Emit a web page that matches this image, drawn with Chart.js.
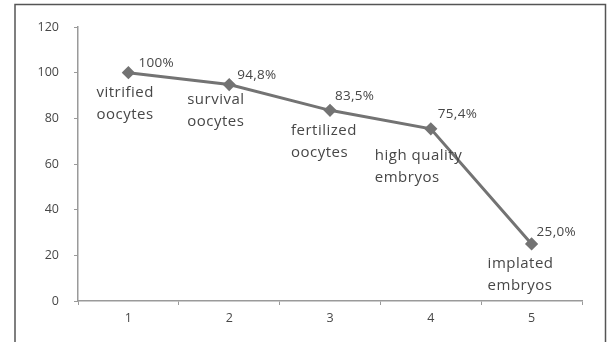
<!DOCTYPE html>
<html>
<head>
<meta charset="utf-8">
<script src="https://cdn.jsdelivr.net/npm/chart.js@4/dist/chart.umd.min.js"></script>
<style>
  html, body { margin: 0; padding: 0; background: #ffffff; }
  #wrap { position: relative; width: 612px; height: 342px; }
  canvas { display: block; }
</style>
</head>
<body>
<div id="wrap"><canvas id="c" width="612" height="342"></canvas></div>
<script>
// ---- data ----
const categories = ['1', '2', '3', '4', '5'];
const values = [100, 94.8, 83.5, 75.4, 25.0];
const valueLabels = ['100%', '94,8%', '83,5%', '75,4%', '25,0%'];
const stageNames = [
  ['vitrified', 'oocytes'],
  ['survival', 'oocytes'],
  ['fertilized', 'oocytes'],
  ['high quality', 'embryos'],
  ['implated', 'embryos']
];
const yTicks = [0, 20, 40, 60, 80, 100, 120];

// ---- label placement (style, not data) ----
const pctOffset = [[10, -10], [8, -9], [5, -14], [7, -15], [5, -12]];
const nameOffset = [[-32, 20], [-42, 15], [-39, 20], [-56, 27], [-44, 20]];

const textColor = '#474747';
const fontFamily = '"Open Sans", "DejaVu Sans", sans-serif';

const labelPlugin = {
  id: 'labels',
  afterDatasetsDraw(chart) {
    const ctx = chart.ctx;
    const meta = chart.getDatasetMeta(0);
    ctx.save();
    ctx.fillStyle = textColor;
    ctx.textBaseline = 'middle';
    ctx.textAlign = 'left';
    meta.data.forEach((pt, i) => {
      ctx.font = '13.5px ' + fontFamily;
      ctx.letterSpacing = '0.3px';
      ctx.fillText(valueLabels[i], pt.x + pctOffset[i][0], pt.y + pctOffset[i][1]);
      ctx.font = '15px ' + fontFamily;
      ctx.letterSpacing = '0.5px';
      stageNames[i].forEach((line, j) => {
        ctx.fillText(line, pt.x + nameOffset[i][0], pt.y + nameOffset[i][1] + j * 22);
      });
    });
    ctx.restore();
  }
};

const framePlugin = {
  id: 'frame',
  beforeDraw(chart) {
    const ctx = chart.ctx;
    ctx.save();
    ctx.fillStyle = '#ffffff';
    ctx.fillRect(0, 0, chart.width, chart.height);
    ctx.strokeStyle = '#555555';
    ctx.lineWidth = 1.5;
    ctx.beginPath();
    ctx.moveTo(15, 345);
    ctx.lineTo(15, 4.5);
    ctx.lineTo(605.5, 4.5);
    ctx.lineTo(605.5, 345);
    ctx.stroke();
    ctx.restore();
  }
};

new Chart(document.getElementById('c'), {
  type: 'line',
  data: {
    labels: categories,
    datasets: [{
      data: values,
      borderColor: '#737373',
      backgroundColor: '#737373',
      borderWidth: 3,
      pointStyle: 'rectRot',
      pointRadius: 4.5,
      pointHoverRadius: 4.5,
      tension: 0,
      fill: false
    }]
  },
  options: {
    responsive: false,
    animation: false,
    events: [],
    layout: { padding: { top: 27, right: 30, left: 0, bottom: 0 } },
    plugins: {
      legend: { display: false },
      tooltip: { enabled: false },
      title: { display: false }
    },
    scales: {
      x: {
        type: 'category',
        offset: true,
        grid: {
          offset: true,
          drawOnChartArea: false,
          drawTicks: true,
          tickLength: 4,
          color: '#9a9a9a'
        },
        border: { display: true, color: '#9a9a9a', width: 1.5 },
        ticks: {
          color: textColor,
          font: { family: fontFamily, size: 12.5 },
          padding: 6,
          maxRotation: 0
        },
        afterFit(scale) { scale.height = 41; }
      },
      y: {
        min: 0,
        max: 120,
        afterBuildTicks(scale) { scale.ticks = yTicks.map(v => ({ value: v })); },
        grid: {
          drawOnChartArea: false,
          drawTicks: true,
          tickLength: 4,
          color: '#9a9a9a'
        },
        border: { display: true, color: '#9a9a9a', width: 1.5 },
        ticks: {
          color: textColor,
          font: { family: fontFamily, size: 12.5 },
          padding: 15
        },
        afterFit(scale) { scale.width = 78; }
      }
    }
  },
  plugins: [framePlugin, labelPlugin]
});
</script>
</body>
</html>
